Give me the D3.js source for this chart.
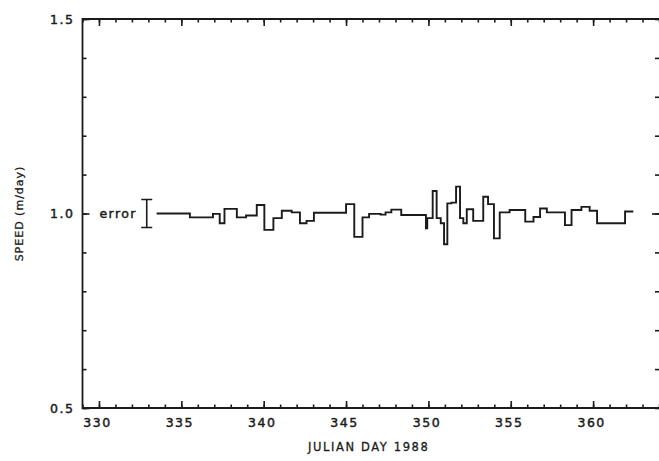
<!DOCTYPE html>
<html><head><meta charset="utf-8">
<script src="https://cdn.jsdelivr.net/npm/d3@7"></script>
<style>body{margin:0;background:#fff}</style>
</head><body>
<svg id="c" width="659" height="461"></svg>
<script>
// step boundaries (Julian day) and speed (m/day) per interval
const days = [333.5,335.52,336.92,337.33,337.62,338.37,338.93,339.58,340.04,340.59,341.1,341.7,342.2,342.6,343.05,345.0,345.5,346.0,346.4,347.1,347.4,347.75,348.35,349.85,349.93,350.26,350.5,350.75,350.95,351.15,351.4,351.68,351.92,352.12,352.33,352.72,353.33,353.62,353.98,354.33,354.93,355.88,356.38,356.78,357.19,358.29,358.69,359.29,359.79,360.24,361.94,362.44];
const speed = [1.000,0.990,0.999,0.975,1.012,0.990,0.995,1.022,0.958,0.988,1.007,1.003,0.975,0.981,1.002,1.024,0.940,0.990,0.999,0.997,1.003,1.010,0.996,0.962,0.988,1.058,0.988,0.975,0.921,1.026,1.028,1.069,0.988,0.975,1.011,0.981,1.043,1.024,0.936,1.003,1.009,0.979,0.991,1.013,1.003,0.970,1.009,1.017,1.007,0.975,1.005];
const xMajorTicks = [330,335,340,345,350,355,360];
const yLabelTicks = [0.5,1.0,1.5];
const errorBar = {day:332.9, center:1.0, half:0.036, label:"error"};
const xTitle = "JULIAN DAY 1988";
const yTitle = "SPEED (m/day)";

const svg = d3.select("#c");
const L=82.5, R=659, T=19, B=408;
const x = d3.scaleLinear().domain([329,364]).range([L,R]);
const y = d3.scaleLinear().domain([0.5,1.5]).range([B,T]);
const ink = "#1b1b1b";
const font = "'DejaVu Sans', sans-serif";

const minorX = d3.range(329,365,1);
const minorY = d3.range(0.5,1.5001,0.1).map(v=>+v.toFixed(2));

function style(g, labels){
  g.select(".domain").remove();
  g.selectAll(".tick line").attr("stroke",ink).attr("stroke-width",1.6);
  g.selectAll(".tick text").attr("fill",ink).attr("stroke",ink).attr("stroke-width",0.45)
    .style("font-family",font).style("font-size","12.5px").style("letter-spacing","1.5px");
  if(!labels) g.selectAll(".tick text").remove();
}
// bottom
svg.append("g").attr("transform",`translate(0,${B})`).call(d3.axisBottom(x).tickValues(minorX).tickSize(-3.5).tickFormat("")).call(g=>style(g,false));
svg.append("g").attr("transform",`translate(0,${B})`).call(d3.axisBottom(x).tickValues(xMajorTicks).tickSize(-7).tickPadding(16).tickFormat(d3.format("d"))).call(g=>style(g,true)).selectAll(".tick text").attr("dx","-2px").attr("dy","0.2em");
// top
svg.append("g").attr("transform",`translate(0,${T})`).call(d3.axisTop(x).tickValues(minorX).tickSize(-3.5).tickFormat("")).call(g=>style(g,false));
svg.append("g").attr("transform",`translate(0,${T})`).call(d3.axisTop(x).tickValues(xMajorTicks).tickSize(-7).tickFormat("")).call(g=>style(g,false));
// left
svg.append("g").attr("transform",`translate(${L},0)`).call(d3.axisLeft(y).tickValues(minorY).tickSize(-4).tickFormat("")).call(g=>style(g,false));
svg.append("g").attr("transform",`translate(${L},0)`).call(d3.axisLeft(y).tickValues(yLabelTicks).tickSize(-7).tickPadding(8).tickFormat(d3.format(".1f"))).call(g=>style(g,true));
// right
svg.append("g").attr("transform",`translate(${R},0)`).call(d3.axisRight(y).tickValues(minorY).tickSize(-4).tickFormat("")).call(g=>style(g,false));
svg.append("g").attr("transform",`translate(${R},0)`).call(d3.axisRight(y).tickValues([1.0]).tickSize(-7).tickFormat("")).call(g=>style(g,false));

// frame
svg.append("path").attr("d",`M${R+2},${T}H${L}V${B}H${R+2}`).attr("fill","none").attr("stroke",ink).attr("stroke-width",1.8);

// step line
const pts = speed.map((v,i)=>[days[i],v]);
pts.push([days[days.length-1], speed[speed.length-1]]);
const line = d3.line().x(d=>x(d[0])).y(d=>y(d[1])).curve(d3.curveStepAfter);
svg.append("path").datum(pts).attr("d",line).attr("fill","none").attr("stroke",ink).attr("stroke-width",1.9).attr("stroke-linejoin","miter");

// error bar
const ex = x(errorBar.day), ey1=y(errorBar.center+errorBar.half), ey2=y(errorBar.center-errorBar.half);
svg.append("path").attr("d",`M${ex-5.5},${ey1}H${ex+5.5}M${ex},${ey1}V${ey2}M${ex-5.5},${ey2}H${ex+5.5}`).attr("stroke",ink).attr("stroke-width",1.6).attr("fill","none");
svg.append("text").attr("x",ex-10).attr("y",y(errorBar.center)).attr("dy","0.35em").attr("text-anchor","end").attr("fill",ink).attr("stroke",ink).attr("stroke-width",0.45)
  .style("font-family",font).style("font-size","12.5px").style("letter-spacing","1.4px").text(errorBar.label);

// titles
svg.append("text").attr("x",(L+R)/2-2).attr("y",451).attr("text-anchor","middle").attr("fill",ink).attr("stroke",ink).attr("stroke-width",0.3)
  .style("font-family",font).style("font-size","11.5px").style("letter-spacing","1.6px").text(xTitle);
svg.append("text").attr("transform",`translate(23,${y(1.0)}) rotate(-90)`).attr("text-anchor","middle").attr("fill",ink).attr("stroke",ink).attr("stroke-width",0.3)
  .style("font-family",font).style("font-size","11px").style("letter-spacing","1px").text(yTitle);
</script>
</body></html>
